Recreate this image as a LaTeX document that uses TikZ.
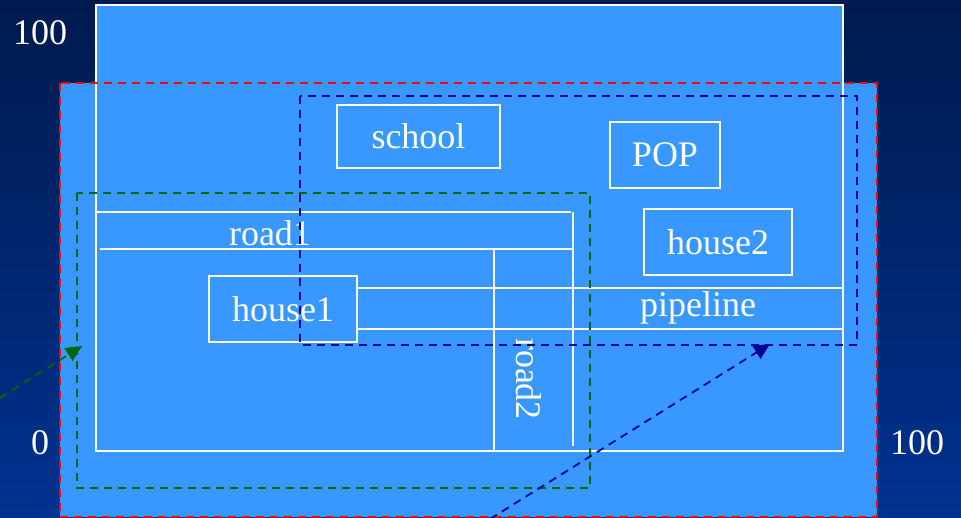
\documentclass[tikz,border=0pt]{standalone}
\usepackage{fontspec}
\setmainfont{Liberation Serif}
\usetikzlibrary{arrows.meta}
\definecolor{lightfill}{RGB}{56,152,255}
\definecolor{navyd}{RGB}{0,0,153}
\definecolor{greend}{RGB}{0,102,0}
\definecolor{redd}{RGB}{255,0,0}
\definecolor{bgtop}{RGB}{0,26,77}
\definecolor{bgbot}{RGB}{0,50,145}
\begin{document}
\begin{tikzpicture}[x=1pt,y=-1pt,
  wline/.style={draw=white, line width=1.8pt},
  box/.style={draw=white, line width=1.8pt, inner sep=0pt, text=white, font=\fontsize{36}{40}\selectfont},
  lbl/.style={text=white, inner sep=0pt, font=\fontsize{36}{40}\selectfont},
  dashbox/.style={line width=2pt, dash pattern=on 8pt off 6pt},
  arr/.style={line width=1.8pt, dash pattern=on 8pt off 6pt, -{Triangle[length=16pt,width=15pt]}}
]
\shade[top color=bgtop, bottom color=bgbot] (0,0) rectangle (961,518);
\useasboundingbox (0,0) rectangle (961,518);
% filled regions
\fill[lightfill] (60,83) rectangle (877,517);
\fill[lightfill] (96,5) rectangle (843,451);
\draw[wline] (96,5) rectangle (843,451);
% road1
\draw[wline] (96,212) -- (571,212);
\draw[wline] (100,249) -- (573,249);
% road2
\draw[wline] (573,212) -- (573,446);
\draw[wline] (494,249) -- (494,451);
% pipeline
\draw[wline] (357,288) -- (843,288);
\draw[wline] (357,329) -- (843,329);
% boxes
\node[box, minimum width=163pt, minimum height=63pt] (school) at (418.5,136.5) {school};
\node[box, minimum width=110pt, minimum height=66pt] (pop) at (665,155) {POP};
\node[box, minimum width=148pt, minimum height=66pt] (house2) at (718,242) {house2};
\node[box, minimum width=148pt, minimum height=66pt] (house1) at (283,309) {house1};
% labels
\node[lbl] (road1) at (270,233) {road1};
\node[lbl] (pipeline) at (698,308) {pipeline};
\node[lbl, rotate=-90] (road2) at (529,379) {road2};
\node[lbl] (n100a) at (40,33) {100};
\node[lbl] (n0) at (40,443) {0};
\node[lbl] (n100b) at (917,443) {100};
% dashed extents
\draw[dashbox, redd] (60,83) rectangle (877,517);
\draw[dashbox, navyd] (300,96) rectangle (857,345);
\draw[dashbox, greend] (77,193) rectangle (590,488);
% arrows
\coordinate (g0) at (0,398);
\coordinate (g1) at (82,346);
\coordinate (b0) at (490,519);
\coordinate (b1) at (770,344);
\draw[arr, greend] (g0) -- (g1);
\draw[arr, navyd] (b0) -- (b1);
\end{tikzpicture}
\end{document}
